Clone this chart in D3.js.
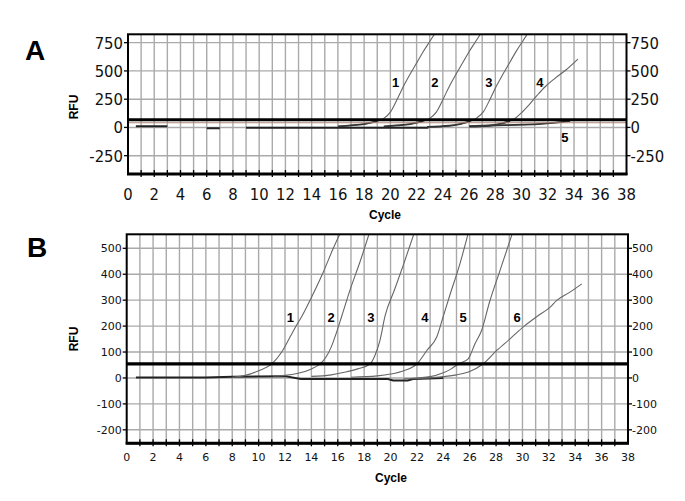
<!DOCTYPE html>
<html><head><meta charset="utf-8">
<script src="https://cdn.jsdelivr.net/npm/d3@7"></script>
<style>
body{margin:0;background:#fff;}
svg{display:block;}
</style></head>
<body><svg id="c" width="685" height="501"></svg>
<script>
// ---------- DATA ----------
const cycleTicks = d3.range(0, 39, 2);
const gridCycles = d3.range(1, 38, 1);

// Panel A
const yTicksA = [750, 500, 250, 0, -250];
const thresholdA = 68;
const curvesA = [
  [[16,10],[17,18],[18,30],[19,55],[19.5,80],[20,135],[20.5,245],[21,365],[21.5,470],[22,570],[22.5,670],[23,760],[23.5,850]],
  [[19.5,8],[20.5,18],[21.5,30],[22.5,55],[23,80],[23.5,135],[24,245],[24.5,365],[25,470],[25.5,570],[26,670],[26.5,760],[27,850]],
  [[22.8,5],[24.5,15],[25.3,30],[26.1,55],[26.6,85],[27.1,140],[27.6,250],[28.1,370],[28.6,475],[29.1,575],[29.6,675],[30.1,765],[30.6,855]],
  [[26,8],[27.5,15],[28.5,35],[29.1,55],[29.5,80],[30,130],[30.5,190],[31.2,285],[31.8,360],[32.5,430],[33.4,510],[34.3,605]],
  [[26,12],[28,18],[30,24],[31.5,32],[32.8,45],[33.7,58]]
];
const labelsA = ["1","2","3","4","5"];
const labelPosA = [[20.4,400],[23.4,400],[27.5,395],[31.4,395],[33.3,-88]];
const baseA = [
  [[0.6,10],[3.0,10]],
  [[6.0,-8],[7.0,-8]],
  [[9.0,-2],[22.9,-2]]
];

// Panel B
const yTicksB = [500, 400, 300, 200, 100, 0, -100, -200];
const thresholdB = 54;
const curvesB = [
  [[8,3],[9,10],[10,28],[11,54],[11.75,100],[12.3,150],[12.84,200],[13.3,240],[13.9,300],[14.83,400],[15.66,500],[16.2,560]],
  [[11.1,8],[12,10],[13,18],[14,35],[14.66,54],[15.1,80],[15.5,119],[15.9,175],[16.3,238],[17.0,350],[17.7,450],[18.4,560]],
  [[14,6],[15.5,12],[16.5,22],[17.5,35],[18.45,54],[18.8,85],[19.2,145],[19.58,238],[20.3,340],[21.0,440],[21.8,560]],
  [[17,3],[19,8],[20,15],[21,28],[22,54],[22.75,106],[23.5,158],[24.0,238],[24.5,320],[25.2,430],[25.9,560]],
  [[21.5,-2],[23,5],[24,20],[24.6,35],[25.14,54],[25.9,75],[26.4,132],[26.9,183],[27.5,292],[28.3,415],[29.25,560]],
  [[21,-3],[23,0],[24,5],[25,12],[26,25],[27,54],[28.05,106],[29.06,151],[30.2,203],[31.1,237],[32.1,273],[32.6,299],[33.6,331],[34.5,363]]
];
const labelsB = ["1","2","3","4","5","6"];
const labelPosB = [[12.4,235],[15.5,235],[18.5,235],[22.6,235],[25.5,235],[29.6,235]];
const baseB = [
  [[0.7,2],[3,2],[6,2],[8,5],[12,7],[13.2,-4],[19.8,-4],[20.2,-10],[21.3,-10],[21.7,-4],[24,0]]
];
const lowB = [[0.7,-15],[2,-13],[3,-5],[6,-2]];

// ---------- DRAW ----------
const svg = d3.select("#c");

function panel(cfg) {
  const g = svg.append("g");
  const x = d3.scaleLinear().domain([0, 38]).range(cfg.xr);
  const y = d3.scaleLinear().domain(cfg.yd).range(cfg.yr);
  const [x0, x1] = cfg.xr, [yb, yt] = cfg.yr;
  const cid = "clip" + cfg.id;
  svg.append("clipPath").attr("id", cid).append("rect")
    .attr("x", x0).attr("y", yt).attr("width", x1 - x0).attr("height", yb - yt);

  // grid
  g.selectAll(".vg").data(gridCycles).join("line")
    .attr("x1", d => x(d)).attr("x2", d => x(d)).attr("y1", yt).attr("y2", yb)
    .attr("stroke", "#aaa").attr("stroke-width", 1.4);
  g.selectAll(".hg").data(cfg.yTicks).join("line")
    .attr("x1", x0).attr("x2", x1).attr("y1", d => y(d)).attr("y2", d => y(d))
    .attr("stroke", "#aaa").attr("stroke-width", 1.4);

  const line = d3.line().x(d => x(d[0])).y(d => y(d[1])).curve(d3.curveMonotoneX);
  const pg = g.append("g").attr("clip-path", `url(#${cid})`);

  (cfg.low || []).forEach(l => pg.append("path").attr("d", line(l)).attr("fill", "none")
    .attr("stroke", "#777").attr("stroke-width", 1.2));
  cfg.base.forEach(b => pg.append("path").attr("d", d3.line().x(d => x(d[0])).y(d => y(d[1]))(b))
    .attr("fill", "none").attr("stroke", "#222").attr("stroke-width", 2));

  cfg.curves.forEach(c => {
    pg.append("path").attr("d", line(c)).attr("fill", "none")
      .attr("stroke", "#666").attr("stroke-width", 1.1);
    const pre = c.filter(p => p[1] <= cfg.threshold);
    if (cfg.darkPre && pre.length > 1)
      pg.append("path").attr("d", line(pre)).attr("fill", "none")
        .attr("stroke", "#333").attr("stroke-width", 1.8);
  });

  // threshold
  if (cfg.shadow)
    g.append("line").attr("x1", x0).attr("x2", x1)
      .attr("y1", y(cfg.threshold) + 3).attr("y2", y(cfg.threshold) + 3)
      .attr("stroke", "#b08878").attr("stroke-width", 1);
  g.append("line").attr("x1", x0).attr("x2", x1)
    .attr("y1", y(cfg.threshold)).attr("y2", y(cfg.threshold))
    .attr("stroke", "#000").attr("stroke-width", 3.2);

  // frame
  g.append("rect").attr("x", x0).attr("y", yt).attr("width", x1 - x0).attr("height", yb - yt)
    .attr("fill", "none").attr("stroke", "#000").attr("stroke-width", 2);
  g.append("line").attr("x1", x0 - 1).attr("x2", x1 + 1).attr("y1", yb).attr("y2", yb)
    .attr("stroke", "#000").attr("stroke-width", 3);

  // bottom ticks
  g.selectAll(".bt").data(d3.range(1, 38)).join("line")
    .attr("x1", d => x(d)).attr("x2", d => x(d)).attr("y1", yb - 4).attr("y2", yb + 3)
    .attr("stroke", "#000").attr("stroke-width", 1.3);
  g.selectAll(".lt").data(cfg.yTicks).join("line")
    .attr("x1", x0 - 4).attr("x2", x0).attr("y1", d => y(d)).attr("y2", d => y(d))
    .attr("stroke", "#000").attr("stroke-width", 1.3);
  g.selectAll(".rt").data(cfg.yTicks).join("line")
    .attr("x1", x1).attr("x2", x1 + 4).attr("y1", d => y(d)).attr("y2", d => y(d))
    .attr("stroke", "#000").attr("stroke-width", 1.3);

  // tick labels
  const tf = cfg.tickFont;
  g.selectAll(".yl").data(cfg.yTicks).join("text")
    .attr("x", x0 - 5).attr("y", d => y(d)).attr("dy", "0.36em")
    .attr("text-anchor", "end").attr("font-family", tf.family).attr("font-size", tf.size)
    .attr("fill", "#111").text(d => d);
  g.selectAll(".yr").data(cfg.yTicks).join("text")
    .attr("x", x1 + 4).attr("y", d => y(d)).attr("dy", "0.36em")
    .attr("text-anchor", "start").attr("font-family", tf.family).attr("font-size", tf.size)
    .attr("fill", "#111").text(d => d);
  g.selectAll(".xl").data(cycleTicks).join("text")
    .attr("x", d => x(d)).attr("y", cfg.xLabelY)
    .attr("text-anchor", "middle").attr("font-family", tf.family).attr("font-size", tf.size)
    .attr("fill", "#111").text(d => d);

  // axis titles
  g.append("text").attr("x", cfg.cycleX).attr("y", cfg.cycleY).attr("text-anchor", "middle")
    .attr("font-family", "Liberation Sans, Arial, sans-serif").attr("font-weight", "bold")
    .attr("font-size", 12).text("Cycle");
  g.append("text").attr("transform", `translate(${cfg.rfuX},${cfg.rfuY}) rotate(-90)`)
    .attr("text-anchor", "middle")
    .attr("font-family", "Liberation Sans, Arial, sans-serif").attr("font-weight", "bold")
    .attr("font-size", 12).text("RFU");
  g.append("text").attr("x", cfg.letter[0]).attr("y", cfg.letter[1])
    .attr("font-family", "Liberation Sans, Arial, sans-serif").attr("font-weight", "bold")
    .attr("font-size", 28).text(cfg.letter[2]);

  // curve labels
  g.selectAll(".cl").data(cfg.labels).join("text")
    .attr("x", (d, i) => x(cfg.labelPos[i][0])).attr("y", (d, i) => y(cfg.labelPos[i][1]))
    .attr("text-anchor", "middle").attr("dy", "0.36em")
    .attr("font-family", "Liberation Sans, Arial, sans-serif").attr("font-weight", "bold")
    .attr("font-size", 13).text(d => d);
}

panel({
  id: "A", xr: [128, 626.5], yd: [-412, 824], yr: [174, 34.3],
  yTicks: yTicksA, threshold: thresholdA, curves: curvesA, base: baseA, darkPre: true, shadow: true,
  labels: labelsA, labelPos: labelPosA,
  tickFont: {family: "Liberation Sans Narrow, DejaVu Sans Condensed, sans-serif", size: 16.5},
  xLabelY: 200, cycleX: 385, cycleY: 219, rfuX: 78, rfuY: 107, letter: [25, 60, "A"]
});
panel({
  id: "B", xr: [126.7, 628], yd: [-252, 554], yr: [443.3, 234.3],
  yTicks: yTicksB, threshold: thresholdB, curves: curvesB, base: baseB, low: lowB, darkPre: false, shadow: false,
  labels: labelsB, labelPos: labelPosB,
  tickFont: {family: "DejaVu Sans, Verdana, sans-serif", size: 11},
  xLabelY: 461, cycleX: 391, cycleY: 482, rfuX: 78, rfuY: 339, letter: [27, 257, "B"]
});
</script></body></html>
